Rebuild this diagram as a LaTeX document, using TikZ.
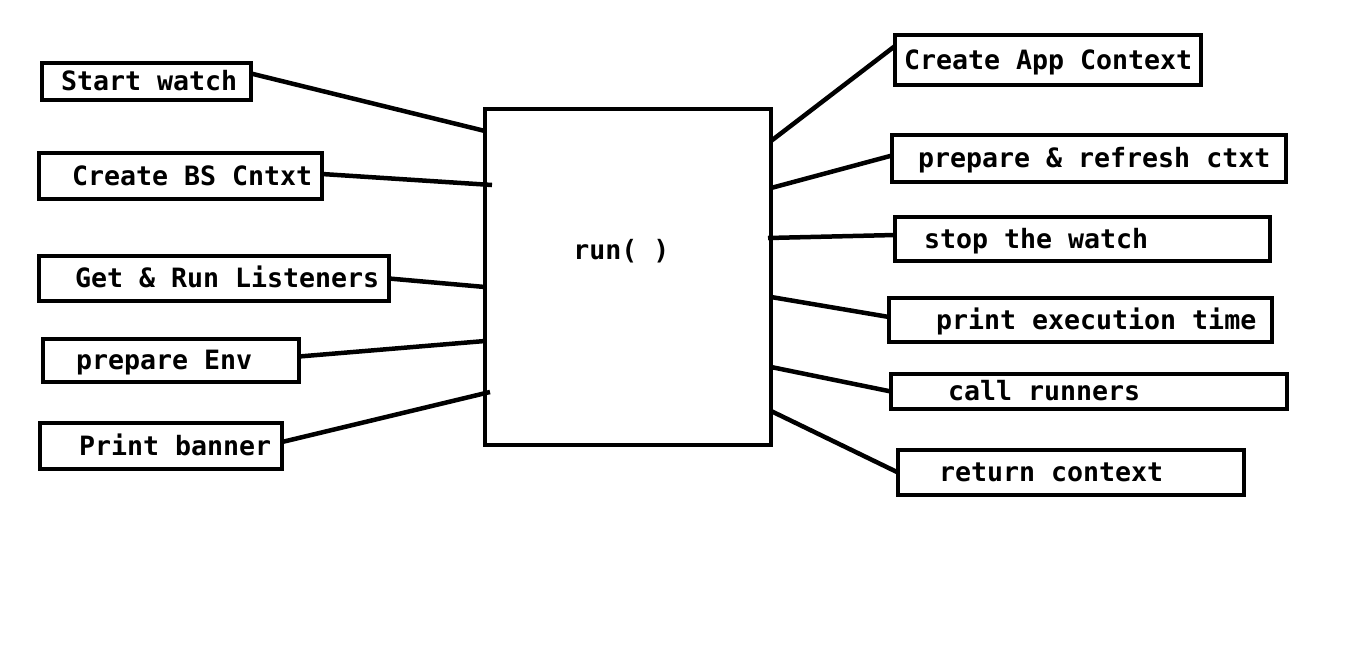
\documentclass[tikz,border=0pt]{standalone}
\usepackage{fontspec}
\setmonofont{DejaVu Sans Mono}
\usepackage{tikz}
\usetikzlibrary{positioning}

\newcommand{\padlabel}[3]{\makebox[#1pt][l]{\hspace*{#2pt}#3}}

\begin{document}
\begin{tikzpicture}[x=1pt, y=-1pt, line width=4.5pt,
  tbox/.style={draw, line width=4.5pt, inner sep=0pt, outer sep=0pt, anchor=north west, font=\fontsize{26.6}{30}\ttfamily\bfseries, text height=22pt, text depth=4pt},
  runbox/.style={draw, line width=4.5pt, inner sep=0pt, outer sep=0pt, anchor=north west, minimum width=286pt, minimum height=336pt}]

\useasboundingbox (0,0) rectangle (1359,654);

\node[runbox] (run) at (485,109) {};
\node[font=\fontsize{26.6}{30}\ttfamily\bfseries, anchor=base west, inner sep=0pt] (runlbl) at (571,259) {run( )};

\node[tbox, minimum height=37pt] (startw) at (42,63) {\padlabel{209}{19}{Start watch}};
\node[tbox, minimum height=46pt] (cbs) at (39,153) {\padlabel{283}{33}{Create BS Cntxt}};
\node[tbox, minimum height=45pt] (grl) at (39,256) {\padlabel{350}{36}{Get \& Run Listeners}};
\node[tbox, minimum height=43pt] (penv) at (43,339) {\padlabel{256}{33}{prepare Env}};
\node[tbox, minimum height=46pt] (pban) at (40,423) {\padlabel{242}{39}{Print banner}};

\node[tbox, minimum height=50pt] (cac) at (895,35) {\padlabel{306}{9}{Create App Context}};
\node[tbox, minimum height=47pt] (prc) at (892,135) {\padlabel{394}{26}{prepare \& refresh ctxt}};
\node[tbox, minimum height=44pt] (stw) at (895,217) {\padlabel{375}{29}{stop the watch}};
\node[tbox, minimum height=44pt] (pet) at (889,298) {\padlabel{383}{47}{print execution time}};
\node[tbox, minimum height=35pt] (crn) at (891,374) {\padlabel{396}{57}{call runners}};
\node[tbox, minimum height=45pt] (rct) at (898,450) {\padlabel{346}{41}{return context}};

\draw ([yshift=8pt]startw.east) -- ([yshift=-22pt]run.north west);
\draw ([yshift=2pt]cbs.east) -- ([xshift=7pt,yshift=-76pt]run.north west);
\draw (grl.east) -- ([yshift=-178pt]run.north west);
\draw ([yshift=4pt]penv.east) -- ([yshift=-232pt]run.north west);
\draw ([yshift=4pt]pban.east) -- ([xshift=5pt,yshift=-283pt]run.north west);

\draw ([yshift=-32pt]run.north east) -- ([yshift=14pt]cac.west);
\draw ([yshift=-79pt]run.north east) -- ([yshift=3pt]prc.west);
\draw ([xshift=-3pt,yshift=-129pt]run.north east) -- ([yshift=4pt]stw.west);
\draw ([yshift=-188pt]run.north east) -- ([yshift=3pt]pet.west);
\draw ([yshift=-258pt]run.north east) -- (crn.west);
\draw ([yshift=-302pt]run.north east) -- (rct.west);
\end{tikzpicture}
\end{document}
